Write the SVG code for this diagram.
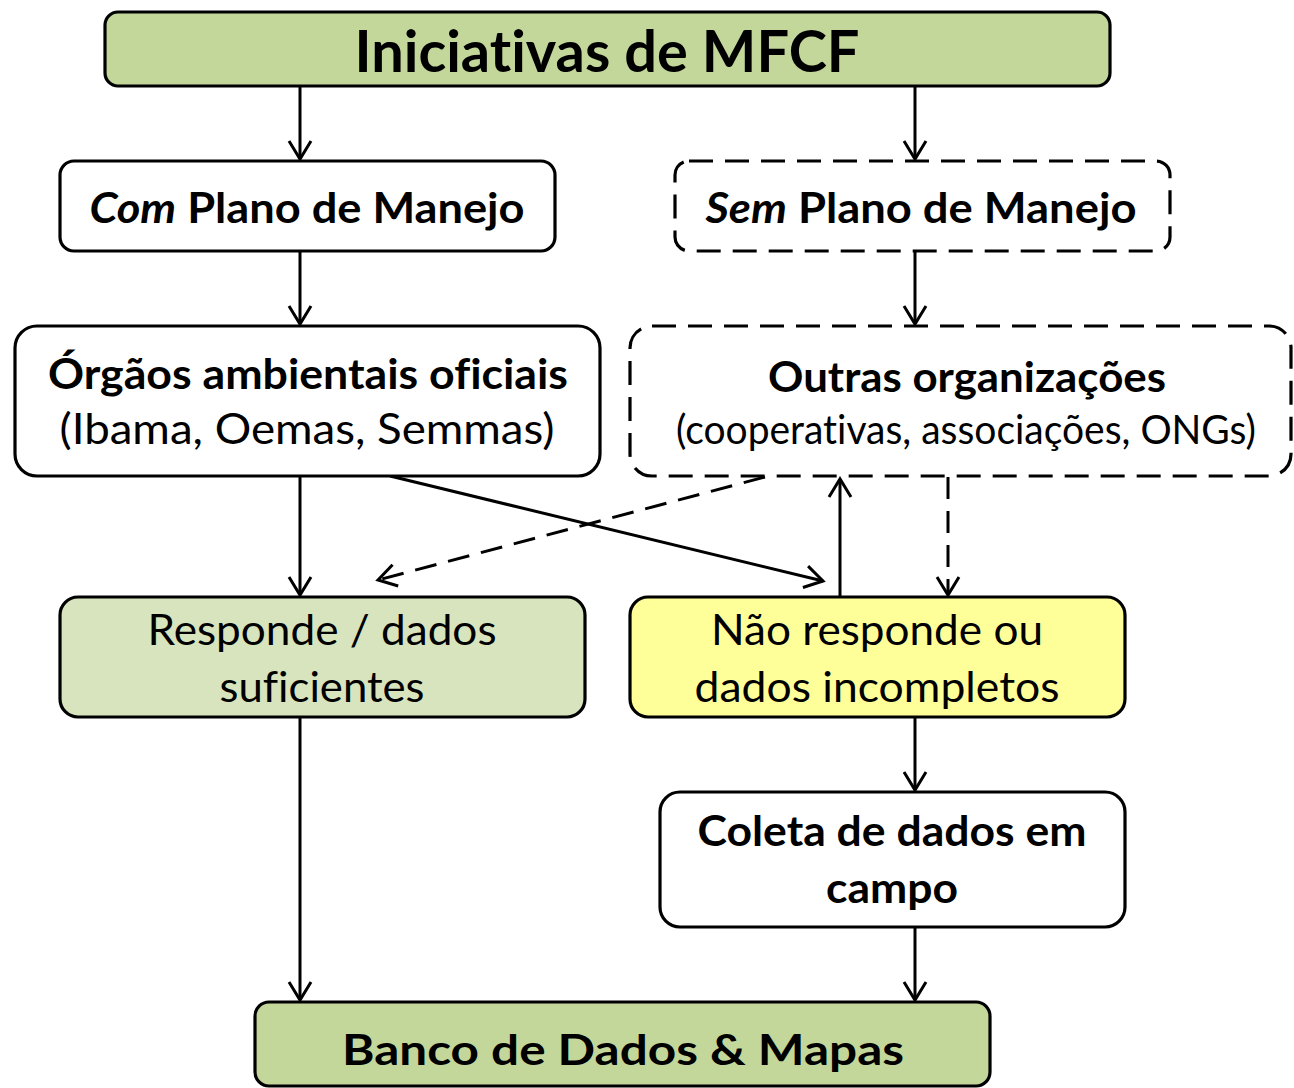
<svg xmlns="http://www.w3.org/2000/svg" width="1294" height="1088" viewBox="0 0 1294 1088">
<style>
.box{stroke:#000;stroke-width:3.2;}
.dash{stroke-dasharray:24 12;}
.w{fill:#fff;}
.g{fill:#C4D79B;}
.lg{fill:#D7E4BD;}
.y{fill:#FFFF99;}
text{font-family:Lato,"Liberation Sans",sans-serif;fill:#000;text-anchor:middle;font-variant-ligatures:none;font-feature-settings:"liga" 0,"clig" 0;}
.b{font-weight:bold;font-size:42px;}
.r{font-size:42px;}
.s{font-size:40px;}
.t{font-weight:bold;font-size:58px;}
.con line{stroke:#000;stroke-width:3;fill:none;marker-end:url(#ah);}
.con .d{stroke-dasharray:22 12;}
</style>
<defs>
<marker id="ah" markerUnits="userSpaceOnUse" viewBox="-21 -14 24 28" markerWidth="24" markerHeight="28" refX="0" refY="0" orient="auto">
<path d="M-18,-11 L0,0 L-18,11" fill="none" stroke="#000" stroke-width="3" stroke-linejoin="miter"/>
</marker>
</defs>
<rect width="1294" height="1088" fill="#fff"/>
<g class="con">
<line x1="300" y1="86" x2="300" y2="159"/>
<line x1="915" y1="86" x2="915" y2="159"/>
<line x1="300" y1="251" x2="300" y2="324"/>
<line x1="915" y1="251" x2="915" y2="324"/>
<line x1="300" y1="476" x2="300" y2="595"/>
<line x1="390" y1="476" x2="823" y2="581"/>
<line class="d" x1="765" y1="477" x2="378" y2="580"/>
<line x1="840" y1="597" x2="840" y2="479"/>
<line class="d" x1="948" y1="477" x2="948" y2="595"/>
<line x1="915" y1="717" x2="915" y2="790"/>
<line x1="300" y1="717" x2="300" y2="1000"/>
<line x1="915" y1="927" x2="915" y2="1000"/>
</g>
<g id="n-iniciativas">
<rect class="box g" x="105" y="12" width="1005" height="74" rx="13"/>
<text class="t" x="607" y="72" textLength="505" lengthAdjust="spacingAndGlyphs">Iniciativas de MFCF</text>
</g>
<g id="n-com">
<rect class="box w" x="60" y="161" width="495" height="90" rx="14"/>
<text class="b" x="307" y="223" textLength="435" lengthAdjust="spacingAndGlyphs"><tspan font-style="italic">Com</tspan> Plano de Manejo</text>
</g>
<g id="n-sem">
<rect class="box w dash" x="675" y="161" width="495" height="90" rx="14"/>
<text class="b" x="921" y="223" textLength="431" lengthAdjust="spacingAndGlyphs"><tspan font-style="italic">Sem</tspan> Plano de Manejo</text>
</g>
<g id="n-orgaos">
<rect class="box w" x="15" y="326" width="585" height="150" rx="22"/>
<text class="b" x="308" y="389" textLength="520" lengthAdjust="spacingAndGlyphs">Órgãos ambientais oficiais</text>
<text class="r" x="307" y="444" textLength="495" lengthAdjust="spacingAndGlyphs">(Ibama, Oemas, Semmas)</text>
</g>
<g id="n-outras">
<rect class="box w dash" x="630" y="326" width="661" height="150" rx="22"/>
<text class="b" x="967" y="392" textLength="398" lengthAdjust="spacingAndGlyphs">Outras organizações</text>
<text class="s" x="966" y="444" textLength="580" lengthAdjust="spacingAndGlyphs">(cooperativas, associações, ONGs)</text>
</g>
<g id="n-responde">
<rect class="box lg" x="60" y="597" width="525" height="120" rx="18"/>
<text class="r" x="322" y="645" textLength="349" lengthAdjust="spacingAndGlyphs">Responde / dados</text>
<text class="r" x="322" y="702" textLength="205" lengthAdjust="spacingAndGlyphs">suficientes</text>
</g>
<g id="n-naoresponde">
<rect class="box y" x="630" y="597" width="495" height="120" rx="18"/>
<text class="r" x="877" y="645" textLength="332" lengthAdjust="spacingAndGlyphs">Não responde ou</text>
<text class="r" x="877" y="702" textLength="365" lengthAdjust="spacingAndGlyphs">dados incompletos</text>
</g>
<g id="n-coleta">
<rect class="box w" x="660" y="792" width="465" height="135" rx="20"/>
<text class="b" x="892" y="846" textLength="389" lengthAdjust="spacingAndGlyphs">Coleta de dados em</text>
<text class="b" x="892" y="903" textLength="132" lengthAdjust="spacingAndGlyphs">campo</text>
</g>
<g id="n-banco">
<rect class="box g" x="255" y="1002" width="735" height="84" rx="14"/>
<text class="b" x="623" y="1065" textLength="562" lengthAdjust="spacingAndGlyphs">Banco de Dados &amp; Mapas</text>
</g>
</svg>
